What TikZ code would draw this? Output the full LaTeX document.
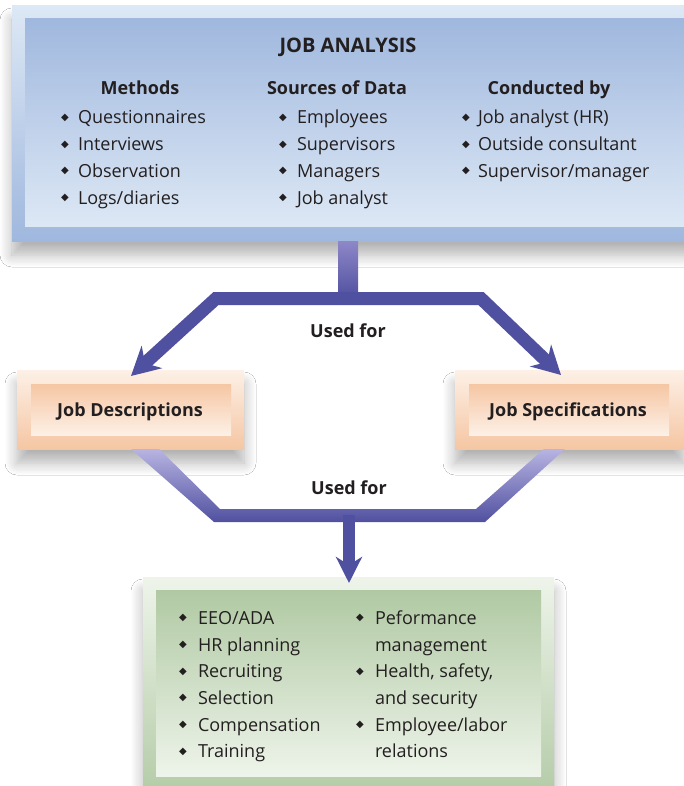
\documentclass[tikz,border=0pt]{standalone}
\usepackage{fontspec}
\setmainfont{Open Sans}
\newfontfamily\dejavu{DejaVu Sans}
\usetikzlibrary{arrows.meta,shadows.blur}

\definecolor{bluelt}{HTML}{DDE8F5}
\definecolor{bluedk}{HTML}{A0B8DE}
\definecolor{orlt}{HTML}{FDF0E6}
\definecolor{ordk}{HTML}{F5C6A3}
\definecolor{grlt}{HTML}{EEF4EA}
\definecolor{grdk}{HTML}{B0C9A3}
\definecolor{purp}{HTML}{5050A0}
\definecolor{lavs}{HTML}{8E88C8}
\definecolor{lavb}{HTML}{B8B4E2}
\definecolor{txt}{HTML}{231F20}

\newcommand\bul{\raisebox{3.5pt}{\dejavu\fontsize{10}{10}\selectfont ◆}}
\newcommand\itm[2][17pt]{\makebox[#1][l]{\bul}#2}
\newcommand\cnt[2][19pt]{\hspace*{#1}#2}

\tikzset{
  every node/.style={inner sep=0pt, outer sep=0pt, text=txt},
  shad/.style={blur shadow={shadow xshift=0pt, shadow yshift=-14pt, shadow blur radius=12pt, shadow blur steps=12, shadow opacity=30}},
  blueout/.style={shad, rectangle, top color=bluelt, bottom color=bluedk, anchor=north west},
  bluein/.style={rectangle, top color=bluedk, bottom color=bluelt, anchor=north west},
  orout/.style={shad, rectangle, top color=orlt, bottom color=ordk, anchor=north west},
  orin/.style={rectangle, top color=ordk, bottom color=orlt, anchor=north west},
  grout/.style={shad, rectangle, top color=grlt, bottom color=grdk, anchor=north west},
  grin/.style={rectangle, top color=grdk, bottom color=grlt, anchor=north west},
  item/.style={font=\fontsize{18}{18}\selectfont, anchor=base west},
  hdr/.style={font=\bfseries\fontsize{18}{18}\selectfont, anchor=base},
  conn/.style={draw=purp, line width=13pt, line join=miter},
  tipA/.tip={Stealth[length=28pt,width=30pt,inset=9pt]},
  tipB/.tip={Stealth[length=26pt,width=26pt,inset=8pt]}
}

\begin{document}
\begin{tikzpicture}[x=1pt,y=-1pt]
\useasboundingbox (0,0) rectangle (684,786);
\fill[white] (0,0) rectangle (684,786);

% ---------- top box ----------
\node[blueout, minimum width=686pt, minimum height=235pt] (jaout) at (12,6) {};
\node[bluein, minimum width=660pt, minimum height=208pt] (jain) at (25,19) {};
\node[hdr, font=\bfseries\fontsize{20}{20}\selectfont] (ja) at (348,53) {JOB ANALYSIS};
\node[hdr] (h1) at (140,95) {Methods};
\node[hdr] (h2) at (337,95) {Sources of Data};
\node[hdr] (h3) at (549,95) {Conducted by};
\foreach \t [count=\i] in {Questionnaires,Interviews,Observation,Logs/diaries}
  \node[item] (m\i) at (61,{124+26.7*(\i-1)}) {\itm{\t}};
\foreach \t [count=\i] in {Employees,Supervisors,Managers,Job analyst}
  \node[item] (s\i) at (279,{124+26.7*(\i-1)}) {\itm[18pt]{\t}};
\foreach \t [count=\i] in {Job analyst (HR),Outside consultant,Supervisor/manager}
  \node[item] (c\i) at (462,{124+26.7*(\i-1)}) {\itm[16pt]{\t}};

% ---------- middle boxes ----------
\node[orout, minimum width=227pt, minimum height=79pt] (jdout) at (17,370) {};
\node[orin, minimum width=200pt, minimum height=51pt] (jdin) at (31,384) {};
\node[hdr] (jd) at (130,416) {Job Descriptions};
\node[orout, minimum width=229pt, minimum height=79pt] (jsout) at (455,370) {};
\node[orin, minimum width=200pt, minimum height=51pt] (jsin) at (469,384) {};
\node[hdr] (js) at (568,416) {Job Specifications};

% ---------- bottom box ----------
\node[grout, minimum width=411pt, minimum height=230pt] (usout) at (143,577) {};
\node[grin, minimum width=385pt, minimum height=186pt] (usin) at (156,590) {};
\foreach \t [count=\i] in {EEO/ADA,HR planning,Recruiting,Selection,Compensation,Training}
  \node[item] (u\i) at (179,{624.3+26.7*(\i-1)}) {\itm[19pt]{\t}};
\foreach \t [count=\i] in {{\itm[19pt]{Peformance}},{\cnt{management}},{\itm[19pt]{Health, safety,}},{\cnt{and security}},{\itm[19pt]{Employee/labor}},{\cnt{relations}}}
  \node[item] (v\i) at (356,{624.3+26.7*(\i-1)}) {\t};

% ---------- labels ----------
\node[hdr] (used1) at (348,337) {Used for};
\node[hdr] (used2) at (349,494) {Used for};

% ---------- connectors ----------
\coordinate (s0) at (348,241);
\coordinate (bm) at (348,298.5);
\coordinate (bl) at (216,298.5);
\coordinate (br) at (481,298.5);
\coordinate (ljd) at (131,376);
\coordinate (rjs) at (561,375);
\shade[top color=lavs, middle color=purp, bottom color=purp]
  ([xshift=-10pt]s0) rectangle ([xshift=10pt]bm);
\draw[conn, tipA-tipA] (ljd) -- (bl) -- (br) -- (rjs);

\coordinate (q1) at (131,449);
\coordinate (q2) at (214,522);
\coordinate (q3) at (485,522);
\coordinate (q4) at (565,449);
\coordinate (q5) at (544,449);
\coordinate (q6) at (476,509);
\coordinate (q7) at (220,509);
\coordinate (q8) at (159,449);
\shade[top color=lavb, middle color=purp, bottom color=purp]
  (q1) -- (q2) -- (q3) -- (q4) -- (q5) -- (q6) -- (q7) -- (q8) -- cycle;
\coordinate (bm2) at (349,515);
\coordinate (tipus) at (349,583);
\draw[conn, line width=12pt, -tipB] (bm2) -- (tipus);
\end{tikzpicture}
\end{document}
